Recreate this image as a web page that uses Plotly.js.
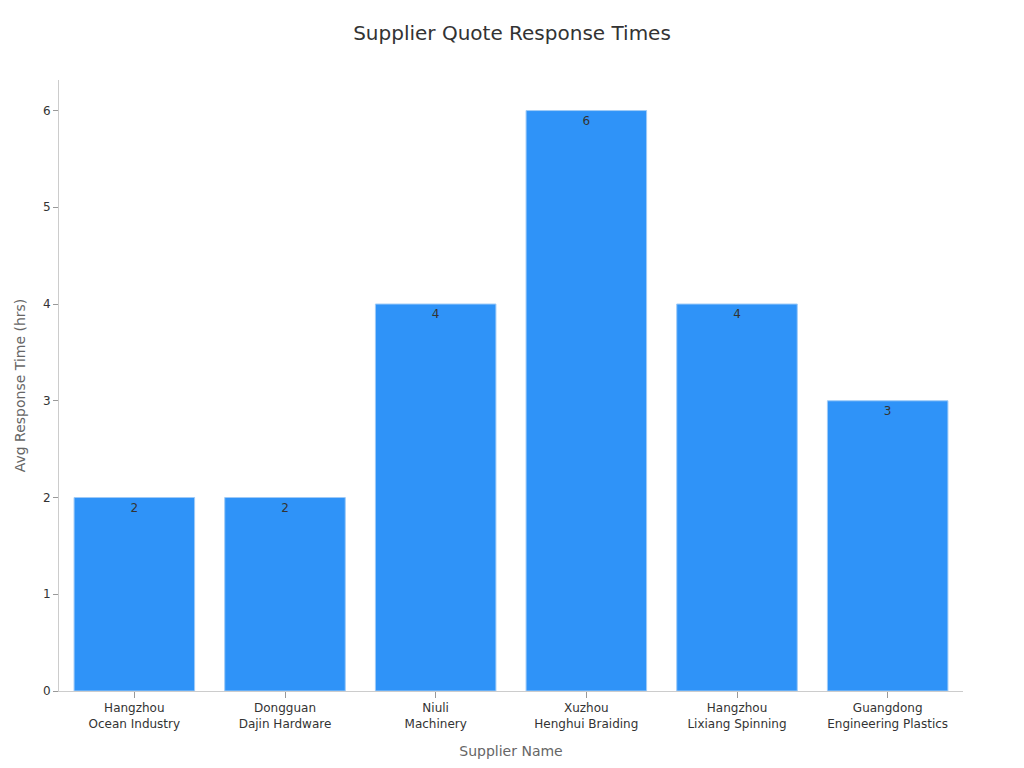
<!DOCTYPE html>
<html>
<head>
<meta charset="utf-8">
<script src="https://cdn.plot.ly/plotly-3.0.1.min.js"></script>
<style>
  html, body { margin: 0; padding: 0; background: #fff; }
  #chart { width: 1024px; height: 768px; }
</style>
</head>
<body>
<div id="chart"></div>
<script>
// supplier names, two lines each as on the axis
var suppliers = [
  'Hangzhou<br>Ocean Industry',
  'Dongguan<br>Dajin Hardware',
  'Niuli<br>Machinery',
  'Xuzhou<br>Henghui Braiding',
  'Hangzhou<br>Lixiang Spinning',
  'Guangdong<br>Engineering Plastics'
]
var responseHours = [2, 2, 4, 6, 4, 3]

var data = [{
  type: 'bar',
  x: suppliers,
  y: responseHours,
  text: responseHours.map(String),
  textposition: 'inside',
  insidetextanchor: 'end',
  textfont: { color: '#333333', size: 12 },
  marker: {
    color: '#2f93f8',
    line: { color: '#9fcbf7', width: 1 }
  },
  hoverinfo: 'x+y'
}]

var layout = {
  width: 1024,
  height: 768,
  font: { family: 'DejaVu Sans, sans-serif', color: '#333333', size: 12 },
  title: {
    text: 'Supplier Quote Response Times',
    font: { size: 20, color: '#333333' },
    x: 0.5, y: 1 - 33 / 768, yanchor: 'middle'
  },
  margin: { l: 59, r: 61, t: 80, b: 77 },
  paper_bgcolor: '#ffffff',
  plot_bgcolor: '#ffffff',
  bargap: 0.2,
  showlegend: false,
  xaxis: {
    title: { text: 'Supplier Name', font: { size: 14, color: '#666666' }, standoff: 16 },
    showline: true, linecolor: '#cccccc', linewidth: 1,
    ticks: 'outside', tickcolor: '#999999', ticklen: 6,
    tickfont: { size: 12 },
    showgrid: false, zeroline: false
  },
  yaxis: {
    title: { text: 'Avg Response Time (hrs)', font: { size: 14, color: '#666666' }, standoff: 14 },
    showline: true, linecolor: '#cccccc', linewidth: 1,
    ticks: 'outside', tickcolor: '#999999', ticklen: 5,
    tickfont: { size: 12 },
    showgrid: false, zeroline: false,
    dtick: 1
  }
}

Plotly.newPlot('chart', data, layout, { displayModeBar: false, staticPlot: true })
</script>
</body>
</html>
